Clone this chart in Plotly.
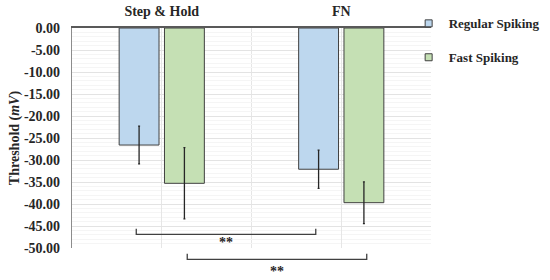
import plotly.graph_objects as go

# data
protocols = ["Step & Hold", "FN"]
regular_mean = [-26.6, -32.1]
regular_err = [4.3, 4.35]
fast_mean = [-35.3, -39.7]
fast_err = [8.1, 4.75]

y_ticks = [0, -5, -10, -15, -20, -25, -30, -35, -40, -45, -50]

# significance brackets: (x_from, x_to, bracket level, star level, label)
brackets = [
    (0 - 0.142, 1 - 0.142, -46.9, -48.3, "**"),
    (0 + 0.142, 1 + 0.142, -52.6, -55.0, "**"),
]

COLOR_BLUE = "#BDD7EE"
COLOR_GREEN = "#C5E0B4"
COLOR_EDGE = "#404040"
FONT = "Liberation Serif"
Y_MIN, Y_MAX = -50, 0

x = list(range(len(protocols)))

fig = go.Figure()
fig.add_trace(go.Bar(
    x=x, y=regular_mean, name="Regular Spiking", showlegend=False,
    marker=dict(color=COLOR_BLUE, line=dict(color=COLOR_EDGE, width=1)),
    error_y=dict(type="data", array=regular_err, color="#262626", thickness=1.3, width=1),
))
fig.add_trace(go.Bar(
    x=x, y=fast_mean, name="Fast Spiking", showlegend=False,
    marker=dict(color=COLOR_GREEN, line=dict(color=COLOR_EDGE, width=1)),
    error_y=dict(type="data", array=fast_err, color="#262626", thickness=1.3, width=1),
))

# small square legend symbols
for name, color in [("Regular Spiking", COLOR_BLUE), ("Fast Spiking", COLOR_GREEN)]:
    fig.add_trace(go.Scatter(
        x=[None], y=[None], mode="markers", name=name, legendgroup=name,
        marker=dict(symbol="square", size=7, color=color, line=dict(color=COLOR_EDGE, width=1)),
    ))


def to_domain(v):
    return (v - Y_MIN) / (Y_MAX - Y_MIN)


for x0, x1, level, star, label in brackets:
    tick = 1.3
    fig.add_shape(
        type="path", xref="x", yref="y domain",
        path=(f"M {x0},{to_domain(level + tick)} L {x0},{to_domain(level)} "
              f"L {x1},{to_domain(level)} L {x1},{to_domain(level + tick)}"),
        line=dict(color="#404040", width=1.3),
    )
    # asterisks sit high in the glyph box, so nudge the text down
    fig.add_annotation(
        x=(x0 + x1) / 2, y=to_domain(star), xref="x", yref="y domain",
        text=f"<b>{label}</b>", showarrow=False, yshift=-11,
        font=dict(family=FONT, size=14, color="#262626"),
    )

fig.update_layout(
    width=550, height=280,
    barmode="group", bargap=0.495, bargroupgap=0.12,
    paper_bgcolor="white", plot_bgcolor="white",
    margin=dict(l=72, r=119, t=28, b=32, autoexpand=False),
    font=dict(family=FONT, size=13, color="#262626"),
    legend=dict(
        xref="container", yref="container", x=0.743, y=0.97,
        xanchor="left", yanchor="top", tracegroupgap=14, itemwidth=30,
        font=dict(family=FONT, size=13, color="#262626", weight="bold"),
        bgcolor="rgba(0,0,0,0)",
    ),
)

fig.update_xaxes(
    range=[-0.5, 1.5], side="top", automargin=False,
    tickvals=x, ticktext=[f"<b>{p}</b>" for p in protocols],
    tickfont=dict(family=FONT, size=14, color="#262626"),
    ticks="", ticklabelstandoff=5,
    showline=True, linecolor="#595959", linewidth=1.5,
    showgrid=True, gridcolor="#e6e6e6", gridwidth=1,
    minor=dict(tick0=-0.5, dtick=0.5, showgrid=True, gridcolor="#e6e6e6"),
    zeroline=False, fixedrange=True,
)
fig.update_yaxes(
    range=[Y_MIN, Y_MAX], automargin=False, fixedrange=True,
    tickvals=y_ticks, ticktext=[f"{v:.2f}" for v in y_ticks],
    tickfont=dict(family=FONT, size=14, color="#262626", weight="bold"),
    ticks="", ticklabelstandoff=8,
    showline=True, linecolor="#8c8c8c", linewidth=1.2,
    showgrid=True, gridcolor="#e3e3e3", gridwidth=1,
    minor=dict(dtick=1, showgrid=True, gridcolor="#f5f5f5"),
    zeroline=False,
    title=dict(text="<b>Threshold (<i>mV</i>)</b>", standoff=1,
               font=dict(family=FONT, size=14, color="#262626")),
)

# drop the browser's default body margin so the figure sits at the page corner
fig.write_html("out.html", config={"displayModeBar": False},
               post_script="document.body.style.margin = '0';")
